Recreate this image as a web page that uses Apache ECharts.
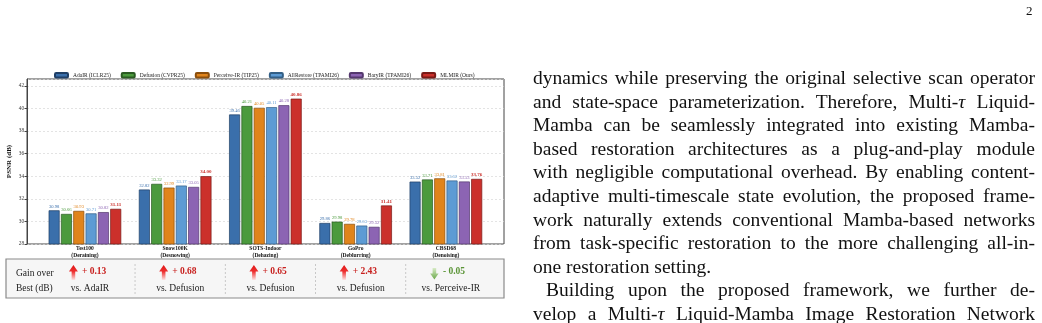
<!DOCTYPE html>
<html lang="en">
<head>
    <meta charset="UTF-8">
    <title>PSNR comparison</title>
    <script src="https://cdn.jsdelivr.net/npm/echarts@6/dist/echarts.min.js"></script>
    <style>
        body { margin: 0; background: #fff; }
        #main { position: absolute; left: 0; top: 0; width: 1042px; height: 323px; }
        .txt { position: absolute; left: 533px; width: 502px; font-family: "Liberation Serif", serif;
               font-size: 19.5px; line-height: 23.6px; color: #111; white-space: nowrap; }
        .j { text-align: justify; text-align-last: justify; white-space: normal; }
        #pageno { position: absolute; left: 1026px; top: 3px; font-family: "Liberation Serif", serif; font-size: 13px; color: #111; }
    </style>
</head>
<body>
<div id="main"></div>
<div id="pageno">2</div>
<div id="para"></div>

<script type="text/javascript">
    var categories = ['Test100', 'Snow100K', 'SOTS-Indoor', 'GoPro', 'CBSD68'];
    var tasks = ['Deraining', 'Desnowing', 'Dehazing', 'Deblurring', 'Denoising'];
    var methods = ['AdaIR (ICLR25)', 'Defusion (CVPR25)', 'Perceive-IR (TIP25)', 'AllRestore (TPAMI26)', 'BaryIR (TPAMI26)', 'MLMIR (Ours)'];
    var adair = [30.98, 32.82, 39.46, 29.86, 33.52];
    var defusion = [30.66, 33.32, 40.21, 29.98, 33.71];
    var perceive = [30.93, 32.99, 40.05, 29.78, 33.81];
    var allrestore = [30.71, 33.17, 40.11, 29.63, 33.62];
    var baryir = [30.82, 33.05, 40.28, 29.52, 33.53];
    var mlmir = [31.11, 34.00, 40.86, 31.41, 33.76];
    var yTicks = [28, 30, 32, 34, 36, 38, 40, 42];
    var gains = [0.13, 0.68, 0.65, 2.43, -0.05];
    var gainVs = ['AdaIR', 'Defusion', 'Defusion', 'Defusion', 'Perceive-IR'];

    var colors = ['#3a6fab', '#4b9a3d', '#e0841b', '#5d9bd4', '#8c64b3', '#cb302b'];
    var edges = ['#1f3f66', '#2a5a22', '#8a4e0c', '#335f86', '#54386e', '#7a1a17'];
    var serif = '"Liberation Serif", "Times New Roman", serif';

    // text column on the right (one div per line so each line can be justified)
    var lines = [
        ['dynamics while preserving the original selective scan operator', 'j'],
        ['and state-space parameterization. Therefore, Multi-<i>&tau;</i> Liquid-', 'j'],
        ['Mamba can be seamlessly integrated into existing Mamba-', 'j'],
        ['based restoration architectures as a plug-and-play module', 'j'],
        ['with negligible computational overhead. By enabling content-', 'j'],
        ['adaptive multi-timescale state evolution, the proposed frame-', 'j'],
        ['work naturally extends conventional Mamba-based networks', 'j'],
        ['from task-specific restoration to the more challenging all-in-', 'j'],
        ['one restoration setting.', ''],
        ['Building upon the proposed framework, we further de-', 'j ind'],
        ['velop a Multi-<i>&tau;</i> Liquid-Mamba Image Restoration Network', 'j']
    ];
    var html = '';
    for (var i = 0; i < lines.length; i++) {
        var lineTop = 66 + i * 23.6;
        var extra = lines[i][1].indexOf('ind') >= 0 ? 'left:546px;width:489px;' : '';
        html += '<div class="txt ' + lines[i][1] + '" style="top:' + lineTop + 'px;' + extra + '">' + lines[i][0] + '</div>';
    }
    document.getElementById('para').innerHTML = html;

    var seriesData = [adair, defusion, perceive, allrestore, baryir, mlmir];
    var series = [];
    for (var s = 0; s < methods.length; s++) {
        series.push({
            name: methods[s],
            type: 'bar',
            xAxisIndex: 1,
            yAxisIndex: 1,
            data: seriesData[s],
            barWidth: 11,
            barGap: '12%',
            itemStyle: { color: colors[s], borderColor: edges[s], borderWidth: 0.7 },
            label: {
                show: true,
                position: 'top',
                distance: 1.5,
                fontFamily: serif,
                fontSize: s === 5 ? 5 : 4.6,
                fontWeight: s === 5 ? 'bold' : 'normal',
                color: colors[s],
                formatter: function (p) { return p.value.toFixed(2); }
            }
        });
    }

    var myChart = echarts.init(document.getElementById('main'));
    myChart.setOption({
        animation: false,
        legend: {
            data: methods,
            left: 54,
            top: 72,
            padding: 0,
            itemWidth: 13,
            itemHeight: 4.5,
            itemGap: 10,
            textStyle: { fontFamily: serif, fontSize: 5.5, color: '#222' }
        },
        grid: [
            { left: 27, top: 79, width: 477, height: 165, show: true, borderColor: '#444', borderWidth: 1 },
            { left: 39.8, top: 79, width: 451.2, height: 165 }
        ],
        xAxis: [
            { gridIndex: 0, type: 'value', min: 0, max: 1, show: false },
            {
                gridIndex: 1, type: 'category', data: categories,
                axisLine: { show: false }, axisTick: { show: false },
                axisLabel: {
                    margin: 1.5, fontFamily: serif, fontSize: 5.5, fontWeight: 'bold', color: '#111', lineHeight: 7,
                    formatter: function (v, idx) { return v + '\n(' + tasks[idx] + ')'; }
                }
            }
        ],
        yAxis: [
            {
                gridIndex: 0, type: 'value', min: yTicks[0], max: 42.6, interval: 2,
                name: 'PSNR (dB)', nameLocation: 'middle', nameGap: 14,
                nameTextStyle: { fontFamily: serif, fontSize: 7, fontWeight: 'bold', color: '#111' },
                axisLine: { show: true, lineStyle: { color: '#444' } },
                axisTick: { show: true, length: 2.5, lineStyle: { color: '#444' } },
                axisLabel: {
                    margin: 3, fontFamily: serif, fontSize: 5.2, color: '#333', showMaxLabel: false,
                    formatter: function (v) { return yTicks.indexOf(v) >= 0 ? String(v) : ''; }
                },
                splitLine: { show: true, lineStyle: { color: '#d8d8d8', type: [2, 2], width: 0.7 } }
            },
            { gridIndex: 1, type: 'value', min: yTicks[0], max: 42.6, show: false }
        ],
        series: series
    });

    // gain-over-best strip below the chart
    var graphic = [
        { type: 'rect', shape: { x: 6, y: 259, width: 498, height: 39 },
          style: { fill: '#f6f6f6', stroke: '#8a8a8a', lineWidth: 1.2 } },
        { type: 'text', x: 16, y: 273, style: { text: 'Gain over', font: '9.5px ' + serif, fill: '#222', verticalAlign: 'middle' } },
        { type: 'text', x: 16, y: 288, style: { text: 'Best (dB)', font: '9.5px ' + serif, fill: '#222', verticalAlign: 'middle' } }
    ];
    var cols = [];
    for (var c = 0; c < categories.length; c++) {
        cols.push(myChart.convertToPixel({ xAxisIndex: 1 }, c) + 5);
    }
    for (var c = 0; c < cols.length; c++) {
        var cx = cols[c];
        var up = gains[c] >= 0;
        var ax = cx - 16.5;
        var pts = up
            ? [[ax, 265], [ax + 4.5, 271.5], [ax + 1.8, 271.5], [ax + 1.8, 280], [ax - 1.8, 280], [ax - 1.8, 271.5], [ax - 4.5, 271.5]]
            : [[ax - 1.8, 268], [ax + 1.8, 268], [ax + 1.8, 273.5], [ax + 4.2, 273.5], [ax, 279.5], [ax - 4.2, 273.5], [ax - 1.8, 273.5]];
        var grad = up
            ? new echarts.graphic.LinearGradient(0, 0, 0, 1, [{ offset: 0, color: '#e01818' }, { offset: 0.45, color: '#ee3030' }, { offset: 1, color: '#fde4e4' }])
            : new echarts.graphic.LinearGradient(0, 0, 0, 1, [{ offset: 0, color: '#d7ebc6' }, { offset: 1, color: '#6aa84a' }]);
        graphic.push({ type: 'polygon', shape: { points: pts }, style: { fill: grad } });
        var txt = (up ? '+ ' : '- ') + Math.abs(gains[c]).toFixed(2);
        graphic.push({ type: 'text', x: cx - 8, y: 272,
            style: { text: txt, font: 'bold 9.5px ' + serif, fill: up ? '#c8201e' : '#5a9436', verticalAlign: 'middle' } });
        graphic.push({ type: 'text', x: cx, y: 288,
            style: { text: 'vs. ' + gainVs[c], font: '9.5px ' + serif, fill: '#222', align: 'center', verticalAlign: 'middle' } });
        if (c < cols.length - 1) {
            var sx = (cols[c] + cols[c + 1]) / 2;
            graphic.push({ type: 'line', shape: { x1: sx, y1: 264, x2: sx, y2: 294 },
                style: { stroke: '#bdbdbd', lineWidth: 0.8, lineDash: [2, 2] } });
        }
    }
    myChart.setOption({ graphic: graphic });
</script>
</body>
</html>
